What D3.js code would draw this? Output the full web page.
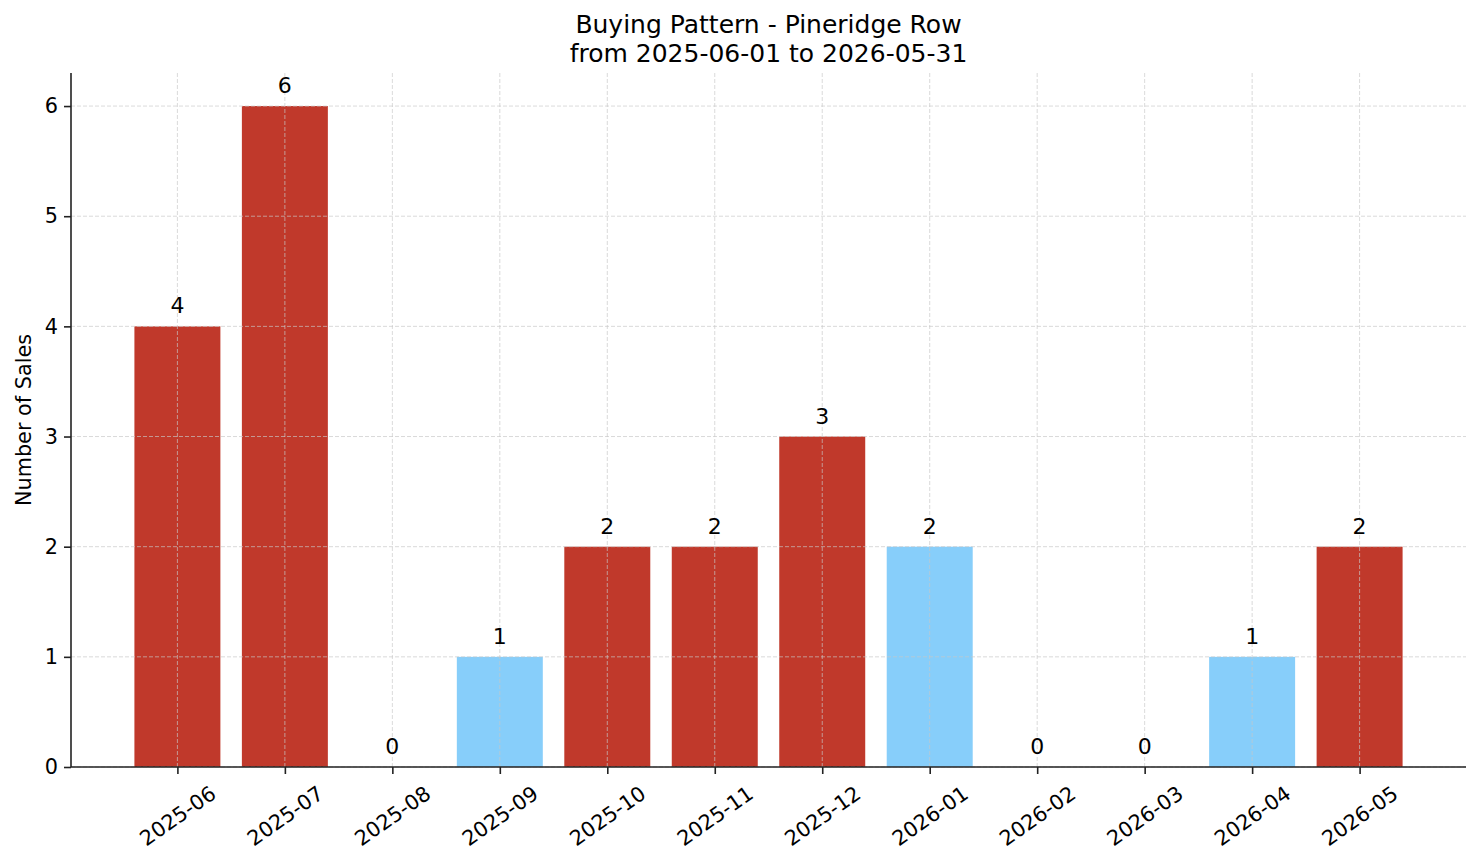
<!DOCTYPE html>
<html>
<head>
<meta charset="utf-8">
<script src="https://cdn.jsdelivr.net/npm/d3@7"></script>
<style>
  body { margin: 0; background: #fff; }
  text { font-family: "DejaVu Sans", sans-serif; fill: #000; }
  .grid line { stroke: #c8c8c8; stroke-opacity: 0.85; stroke-dasharray: 4,2; stroke-width: 0.8; }
  .axis path, .axis line { stroke: #222; stroke-width: 1.6; }
</style>
</head>
<body>
<div id="chart"></div>
<script>
// data
var months = ["2025-06", "2025-07", "2025-08", "2025-09", "2025-10", "2025-11",
              "2025-12", "2026-01", "2026-02", "2026-03", "2026-04", "2026-05"];
var sales = [4, 6, 0, 1, 2, 2, 3, 2, 0, 0, 1, 2];
var highlighted = [false, false, false, true, false, false, false, true, false, false, true, false];
var yTicks = [0, 1, 2, 3, 4, 5, 6];
var titleLines = ["Buying Pattern - Pineridge Row", "from 2025-06-01 to 2026-05-31"];

var W = 1481, H = 863;
var margin = { top: 73, right: 15, bottom: 96, left: 71 },
    width = W - margin.left - margin.right,
    height = H - margin.top - margin.bottom;

var svg = d3.select("#chart")
    .append("svg")
    .attr("width", W)
    .attr("height", H);

var g = svg.append("g")
    .attr("transform", "translate(" + margin.left + "," + margin.top + ")");

// index scale, mimicking matplotlib bar limits
var n = months.length;
var pad = 0.05 * (n - 1 + 0.8);
var x = d3.scaleLinear()
    .domain([-0.4 - pad, n - 1 + 0.4 + pad])
    .range([0, width]);
var y = d3.scaleLinear()
    .domain([0, d3.max(sales) * 1.05])
    .range([height, 0]);
var color = d3.scaleOrdinal()
    .domain([false, true])
    .range(["#c0392b", "#87cefa"]);

var barW = x(0.8) - x(0);

// bars
g.selectAll("rect.bar")
    .data(sales)
    .enter()
    .append("rect")
    .attr("class", "bar")
    .attr("x", function(d, i) { return x(i) - barW / 2; })
    .attr("y", function(d) { return y(d); })
    .attr("width", barW)
    .attr("height", function(d) { return height - y(d); })
    .attr("fill", function(d, i) { return color(highlighted[i]); });

// grid (drawn over bars, like the reference)
var grid = g.append("g").attr("class", "grid");
grid.selectAll("line.h")
    .data(yTicks)
    .enter().append("line")
    .attr("x1", 0).attr("x2", width)
    .attr("y1", function(d) { return y(d); })
    .attr("y2", function(d) { return y(d); });
grid.selectAll("line.v")
    .data(d3.range(n))
    .enter().append("line")
    .attr("y1", 0).attr("y2", height)
    .attr("x1", function(d) { return x(d); })
    .attr("x2", function(d) { return x(d); });

// value labels
g.selectAll("text.val")
    .data(sales)
    .enter()
    .append("text")
    .attr("class", "val")
    .attr("x", function(d, i) { return x(i); })
    .attr("y", function(d) { return y(d) - 13; })
    .attr("text-anchor", "middle")
    .style("font-size", "22px")
    .text(function(d) { return d; });

// y axis
var yAxis = g.append("g")
    .attr("class", "axis")
    .call(d3.axisLeft(y).tickValues(yTicks).tickSize(7).tickPadding(6).tickFormat(d3.format("d")));
yAxis.select(".domain").attr("d", "M0," + height + "V0");
yAxis.selectAll("text").style("font-size", "20.8px").attr("fill", "#000");

// x axis
var xAxis = g.append("g")
    .attr("class", "axis")
    .attr("transform", "translate(0," + height + ")")
    .call(d3.axisBottom(x).tickValues(d3.range(n)).tickSize(7).tickFormat(function(i) { return months[i]; }));
xAxis.select(".domain").attr("d", "M0,0H" + width);
xAxis.selectAll("text")
    .style("font-size", "20.8px")
    .attr("fill", "#000")
    .attr("text-anchor", "middle")
    .attr("dominant-baseline", "central")
    .attr("dy", null)
    .attr("y", 0)
    .attr("transform", "translate(0,49) rotate(-35)");

// y label
svg.append("text")
    .attr("transform", "translate(24," + (margin.top + height / 2) + ") rotate(-90)")
    .attr("text-anchor", "middle")
    .attr("dominant-baseline", "central")
    .style("font-size", "20.8px")
    .text("Number of Sales");

// title
svg.selectAll("text.title")
    .data(titleLines)
    .enter()
    .append("text")
    .attr("class", "title")
    .attr("x", margin.left + width / 2)
    .attr("y", function(d, i) { return 33 + i * 29; })
    .attr("text-anchor", "middle")
    .style("font-size", "25px")
    .text(function(d) { return d; });
</script>
</body>
</html>
